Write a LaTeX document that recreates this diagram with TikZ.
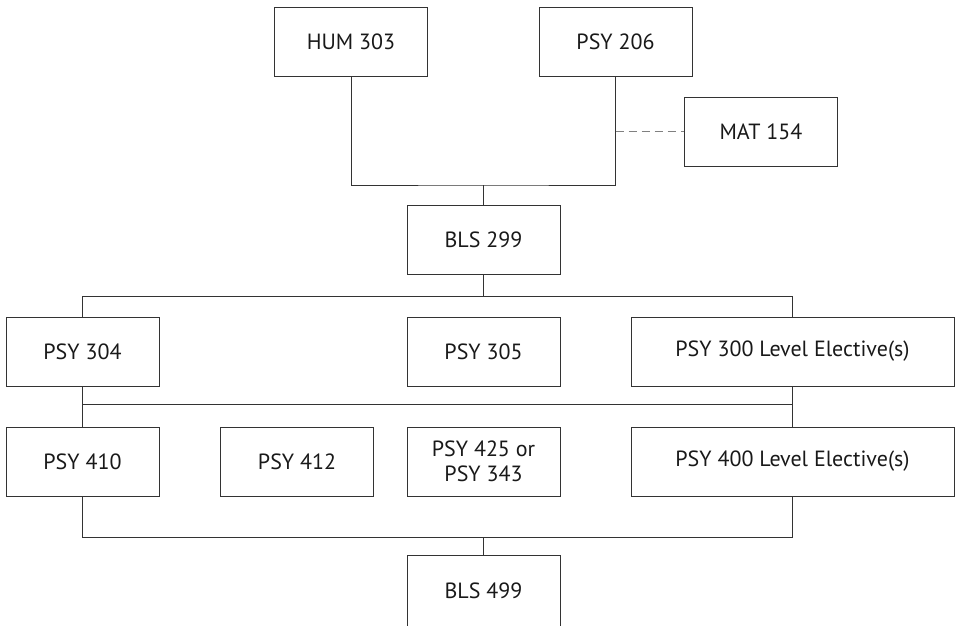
\documentclass[tikz,border=0pt]{standalone}
\usepackage{fontspec}
\setmainfont{PT Sans}
\usepackage{tikz}
\usetikzlibrary{positioning}

\tikzset{
  course/.style={draw=black!80, line width=0.8pt, minimum width=153pt, minimum height=69pt,
    inner sep=2pt, align=center, font=\fontsize{22}{25}\selectfont, text=black!90},
  wide/.style={course, minimum width=323pt},
  link/.style={draw=black!80, line width=0.8pt},
  opt/.style={draw=black!50, line width=0.9pt, dash pattern=on 8pt off 5pt}
}

\begin{document}
\begin{tikzpicture}[x=1pt, y=-1pt] % 1pt = 1px, y goes down
  \useasboundingbox (0,0) rectangle (956,625);
  % first year
  \node[course] (hum303) at (351,42) {HUM 303};
  \node[course] (psy206) at (615.5,42) {PSY 206};
  \node[course] (mat154) at (761,131.5) {MAT 154};
  \node[course] (bls299) at (483.5,240) {BLS 299};
  % 300 level
  \node[course] (psy304) at (82.5,351.5) {PSY 304};
  \node[course] (psy305) at (483.5,351.5) {PSY 305};
  \node[wide] (psy300) at (792.5,351.5) {PSY 300 Level Elective(s)};
  % 400 level
  \node[course] (psy410) at (82.5,461.5) {PSY 410};
  \node[course] (psy412) at (297,461.5) {PSY 412};
  \node[course] (psy425) at (483.5,461.5) {PSY 425 or\\PSY 343};
  \node[wide] (psy400) at (792.5,461.5) {PSY 400 Level Elective(s)};
  \node[course, minimum height=72pt] (bls499) at (483.5,591) {BLS 499};

  % junctions
  \coordinate (j1) at (483.5,185);
  \coordinate (j2) at (483.5,296.5);
  \coordinate (j3) at (483.5,404.5);
  \coordinate (j4) at (483.5,537);
  \coordinate (d1) at (psy206.south |- mat154.west);

  \draw[link] (hum303.south) |- (j1) -| (psy206.south);
  \draw[link] (j1) -- (bls299.north);
  \draw[opt] (d1) -- (mat154.west);
  \draw[link] (bls299.south) -- (j2);
  \draw[link] (psy304.north) |- (j2) -| (psy300.north);
  \draw[link] (psy304.south) |- (j3) -| (psy300.south);
  \draw[link] (psy410.north) |- (j3) -| (psy400.north);
  \draw[link] (psy410.south) |- (j4) -| (psy400.south);
  \draw[link] (j4) -- (bls499.north);
\end{tikzpicture}
\end{document}
